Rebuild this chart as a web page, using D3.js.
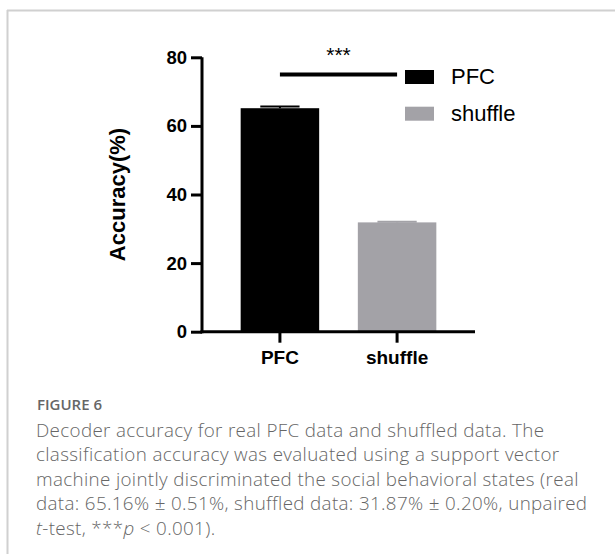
<!DOCTYPE html>
<html>
<head>
<meta charset="utf-8">
<script src="https://cdn.jsdelivr.net/npm/d3@7"></script>
<style>
  body { margin: 0; background: #fff; }
  svg text { font-family: "Liberation Sans", Arial, sans-serif; }
  svg text.caption { font-family: "Open Sans", sans-serif; fill: #666; }
</style>
</head>
<body>
<div id="chart"></div>
<script>
// data
const groups = ["PFC", "shuffle"];
const means = [65.16, 31.87];
const sems = [0.51, 0.20];
const barColors = ["#000000", "#a3a2a7"];
const yTicks = [0, 20, 40, 60, 80];
const sigLevel = 75;   // height of the significance line
const sigLabel = "***";
const captionTitle = "FIGURE 6";
const captionLines = [
    [{t: "Decoder accuracy for real PFC data and shuffled data. The"}],
    [{t: "classification accuracy was evaluated using a support vector"}],
    [{t: "machine jointly discriminated the social behavioral states (real"}],
    [{t: "data: 65.16% \u00b1 0.51%, shuffled data: 31.87% \u00b1 0.20%, unpaired"}],
    [{t: "t", i: true}, {t: "-test, ***"}, {t: "p", i: true}, {t: " < 0.001)."}]
];

function drawChart() {
    const width = 615, height = 554;

    const svg = d3.select("#chart")
        .append("svg")
        .attr("width", width)
        .attr("height", height);

    // panel border (top + left only)
    svg.append("line")
        .attr("x1", 7).attr("x2", width)
        .attr("y1", 10.5).attr("y2", 10.5)
        .attr("stroke", "#d0d0d0").attr("stroke-width", 2);
    svg.append("line")
        .attr("x1", 7.5).attr("x2", 7.5)
        .attr("y1", 10).attr("y2", height)
        .attr("stroke", "#d0d0d0").attr("stroke-width", 2);

    const x = d3.scaleBand()
        .domain(groups)
        .range([202, 475])
        .paddingInner(0.33)
        .paddingOuter(0.33);

    const y = d3.scaleLinear()
        .domain([0, 80])
        .range([331.7, 57.3]);

    // bars
    svg.selectAll(".bar")
        .data(groups)
        .join("rect")
        .attr("class", "bar")
        .attr("x", d => x(d))
        .attr("width", x.bandwidth())
        .attr("y", (d, i) => y(means[i]))
        .attr("height", (d, i) => y(0) - y(means[i]))
        .attr("fill", (d, i) => barColors[i]);

    // error bars (upper only)
    const eb = svg.selectAll(".err")
        .data(groups)
        .join("g")
        .attr("class", "err");
    eb.append("line")
        .attr("x1", d => x(d) + x.bandwidth() / 2)
        .attr("x2", d => x(d) + x.bandwidth() / 2)
        .attr("y1", (d, i) => y(means[i]))
        .attr("y2", (d, i) => y(means[i] + sems[i]))
        .attr("stroke", (d, i) => barColors[i])
        .attr("stroke-width", 2);
    eb.append("line")
        .attr("x1", d => x(d) + x.bandwidth() / 4)
        .attr("x2", d => x(d) + x.bandwidth() * 3 / 4)
        .attr("y1", (d, i) => y(means[i] + sems[i]))
        .attr("y2", (d, i) => y(means[i] + sems[i]))
        .attr("stroke", (d, i) => barColors[i])
        .attr("stroke-width", 2);

    // y axis
    const yAxis = svg.append("g")
        .attr("transform", `translate(${x.range()[0]},0)`)
        .call(d3.axisLeft(y).tickValues(yTicks).tickSize(11).tickPadding(4));
    yAxis.select(".domain").attr("stroke-width", 3).attr("d", `M0,${y(80)}V${y(0) + 1.5}`);
    yAxis.selectAll(".tick line").attr("stroke-width", 3);
    yAxis.selectAll(".tick text")
        .attr("font-size", 18.5)
        .attr("font-weight", "bold")
        .attr("font-family", "Liberation Sans, Arial, sans-serif")
        .attr("fill", "#000");

    // x axis
    const xAxis = svg.append("g")
        .attr("transform", `translate(0,${y(0)})`)
        .call(d3.axisBottom(x).tickSize(11).tickPadding(8));
    xAxis.select(".domain").attr("stroke-width", 3).attr("d", `M${x.range()[0] - 1.5},0H${x.range()[1]}`);
    xAxis.selectAll(".tick line").attr("stroke-width", 3);
    xAxis.selectAll(".tick text")
        .attr("font-size", 19)
        .attr("font-weight", "bold")
        .attr("font-family", "Liberation Sans, Arial, sans-serif")
        .attr("fill", "#000");

    // y axis title
    svg.append("text")
        .attr("transform", `translate(125,${(y(0) + y(80)) / 2}) rotate(-90)`)
        .attr("text-anchor", "middle")
        .attr("font-size", 22)
        .attr("font-weight", "bold")
        .text("Accuracy(%)");

    // significance line and stars
    const cx = groups.map(g => x(g) + x.bandwidth() / 2);
    svg.append("line")
        .attr("x1", cx[0]).attr("x2", cx[1])
        .attr("y1", y(sigLevel)).attr("y2", y(sigLevel))
        .attr("stroke", "#000").attr("stroke-width", 4);
    svg.append("text")
        .attr("x", (cx[0] + cx[1]) / 2)
        .attr("y", y(sigLevel) - 12)
        .attr("text-anchor", "middle")
        .attr("font-size", 21)
        .text(sigLabel);

    // legend
    const legend = svg.selectAll(".legend")
        .data(groups)
        .join("g")
        .attr("class", "legend")
        .attr("transform", (d, i) => `translate(405,${70 + i * 36.7})`);
    legend.append("rect")
        .attr("width", 29).attr("height", 14)
        .attr("fill", (d, i) => barColors[i]);
    legend.append("text")
        .attr("x", 46).attr("y", 14)
        .attr("font-size", 22)
        .text(d => d);

    // caption
    svg.append("text")
        .attr("class", "caption")
        .attr("x", 37).attr("y", 410)
        .attr("font-size", 15)
        .attr("font-weight", 600)
        .attr("fill", "#666")
        .text(captionTitle);

    svg.selectAll(".capline")
        .data(captionLines)
        .join("text")
        .attr("class", "caption")
        .attr("x", 36)
        .attr("y", (d, i) => 437 + i * 24.4)
        .attr("font-size", 18.8)
        .attr("font-weight", 300)
        .attr("letter-spacing", 0.35)
        .each(function (parts) {
            d3.select(this).selectAll("tspan")
                .data(parts)
                .join("tspan")
                .attr("font-style", p => p.i ? "italic" : null)
                .text(p => p.t);
        });
}

drawChart();
</script>
</body>
</html>
